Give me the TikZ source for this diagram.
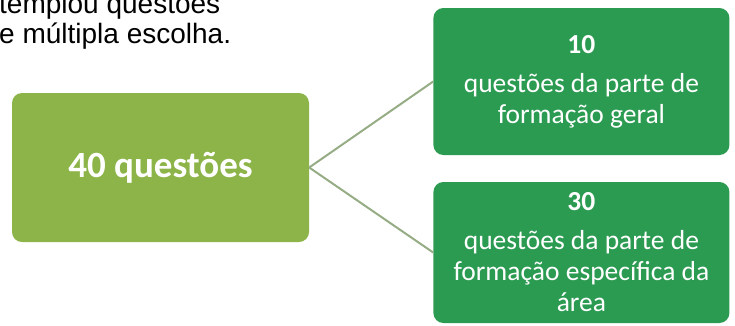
\documentclass[tikz,border=0pt]{standalone}
\usepackage{fontspec}
\setmainfont{Carlito}
\newfontfamily\introfont{Liberation Sans}
\usepackage{xcolor}
\usetikzlibrary{positioning}
\definecolor{limeGreen}{RGB}{140,180,72}
\definecolor{leafGreen}{RGB}{44,155,82}
\definecolor{linkGray}{RGB}{150,172,132}

\begin{document}
\begin{tikzpicture}[
    x=1pt, y=-1pt,
    node distance=124pt,
    intro/.style={inner sep=0pt, align=left, font=\introfont\fontsize{28}{30}\selectfont},
    mainbox/.style={rectangle, rounded corners=10pt, fill=limeGreen, text=white, minimum width=297pt, minimum height=149pt, align=center, font=\fontsize{37}{44}\selectfont\bfseries},
    topicbox/.style={rectangle, rounded corners=10pt, fill=leafGreen, text=white, minimum width=296pt, minimum height=#1, align=center, font=\fontsize{27.5}{31}\selectfont},
    link/.style={draw=linkGray, line width=2pt}
]
\useasboundingbox (0,0) rectangle (735,325);
\clip (0,0) rectangle (735,325);

% Intro text (cut by the frame)
\node[intro, anchor=base west] (intro) at (-1,43) {templou questões\\e múltipla escolha.};

% Total
\node[mainbox] (qtotal) at (160.5,167.5) {40 questões};

% Parts
\node[topicbox=147pt, right=of qtotal, yshift=86pt] (qgeral) {\textbf{10}\\[8pt]questões da parte de\\formação geral};
\node[topicbox=141pt, right=of qtotal, yshift=-85pt] (qespec) {\textbf{30}\\[8pt]questões da parte de\\formação específica da\\área};

% Links
\draw[link] (qtotal.east) -- (qgeral.west);
\draw[link] (qtotal.east) -- (qespec.west);

\end{tikzpicture}
\end{document}
